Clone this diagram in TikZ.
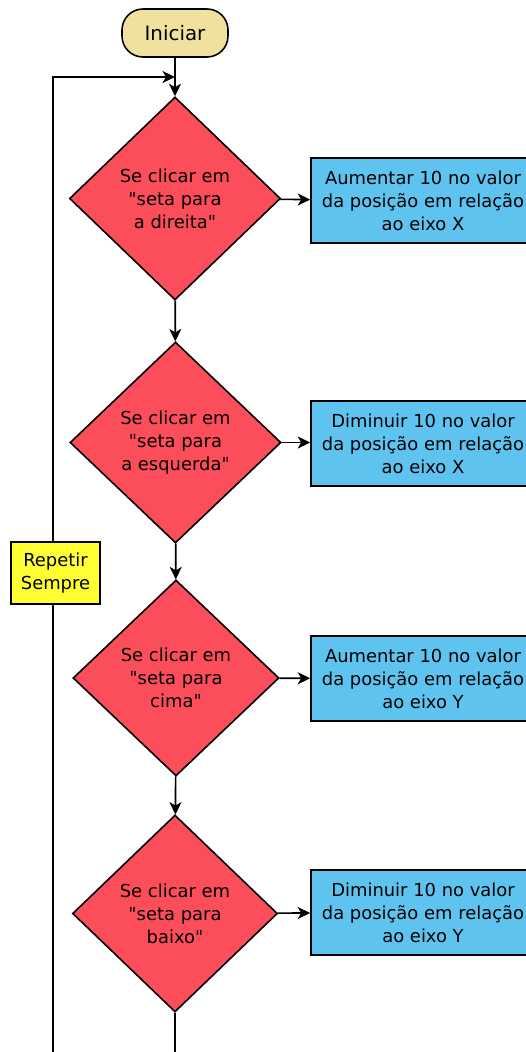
\documentclass[tikz,border=0pt]{standalone}
\usepackage{fontspec}
\setmainfont{DejaVu Sans}[Ligatures=TeXOff]
\usetikzlibrary{shapes.geometric,arrows.meta}
\pgfdeclarelayer{edgelayer}
\pgfdeclarelayer{nodelayer}
\pgfsetlayers{edgelayer,nodelayer,main}
\definecolor{cinicio}{RGB}{240,226,158}
\definecolor{cdecisao}{RGB}{252,78,90}
\definecolor{cacao}{RGB}{95,195,240}
\definecolor{claco}{RGB}{255,255,51}
\tikzset{font=\fontsize{10.2}{13}\selectfont}
\tikzstyle{none}=[inner sep=0pt]
\tikzstyle{inicio}=[rectangle,rounded corners=0.42cm,draw,line width=0.9pt,fill=cinicio,minimum width=2.12cm,minimum height=0.96cm,font=\fontsize{11.3}{13}\selectfont]
\tikzstyle{decisao}=[diamond,draw,line width=0.9pt,fill=cdecisao,inner sep=0pt,align=center,minimum width=4.2cm,minimum height=4cm]
\tikzstyle{acao}=[rectangle,draw,line width=0.9pt,fill=cacao,align=center,minimum width=4.48cm,minimum height=1.7cm,inner sep=0pt]
\tikzstyle{laco}=[rectangle,draw,line width=0.9pt,fill=claco,align=center,minimum width=1.78cm,minimum height=1.24cm,inner sep=0pt,font=\fontsize{10.2}{13}\selectfont]
\tikzstyle{seta}=[line width=0.9pt,-{Stealth[length=0.25cm,width=0.24cm,inset=0.07cm]}]
\tikzstyle{linha}=[line width=0.9pt]

\begin{document}
\begin{tikzpicture}
	\useasboundingbox (0,0) rectangle (10.52,-21.04);
	\begin{pgfonlayer}{nodelayer}
		\node [style=inicio] (0) at (3.5, -0.66) {Iniciar};
		\node [style=decisao, minimum width=4.22cm, minimum height=4.06cm] (1) at (3.5, -3.97) {Se clicar em\\"seta para\\a direita"};
		\node [style=acao] (2) at (8.46, -4.01) {Aumentar 10 no valor\\da posição em relação\\ao eixo X};
		\node [style=decisao, minimum width=4.22cm, minimum height=4.02cm] (3) at (3.51, -8.85) {Se clicar em\\"seta para\\a esquerda"};
		\node [style=acao] (4) at (8.46, -8.87) {Diminuir 10 no valor\\da posição em relação\\ao eixo X};
		\node [style=decisao, minimum width=4.12cm, minimum height=3.92cm] (5) at (3.52, -13.56) {Se clicar em\\"seta para\\cima"};
		\node [style=acao] (6) at (8.46, -13.57) {Aumentar 10 no valor\\da posição em relação\\ao eixo Y};
		\node [style=decisao, minimum width=4.1cm, minimum height=3.94cm] (7) at (3.5, -18.27) {Se clicar em\\"seta para\\baixo"};
		\node [style=acao] (8) at (8.46, -18.25) {Diminuir 10 no valor\\da posição em relação\\ao eixo Y};
		\node [style=laco] (9) at (1.11, -11.46) {Repetir\\Sempre};
		\coordinate (10) at (3.5, -1.54);
		\coordinate (11) at (1.06, -21.2);
		\coordinate (12) at (3.5, -21.2);
	\end{pgfonlayer}
	\begin{pgfonlayer}{edgelayer}
		\draw [style=seta] (0) to (1);
		\draw [style=seta] (11) |- (10);
		\draw [style=seta] (1) to (2);
		\draw [style=seta] (1) to (3);
		\draw [style=seta] (3.east) to (4.west |- 3.east);
		\draw [style=seta] (3) to (5);
		\draw [style=seta] (5) to (6);
		\draw [style=seta] (5) to (7);
		\draw [style=seta] (7) to (8);
		\draw [style=linha] (7.south) to (12);
	\end{pgfonlayer}
\end{tikzpicture}
\end{document}
